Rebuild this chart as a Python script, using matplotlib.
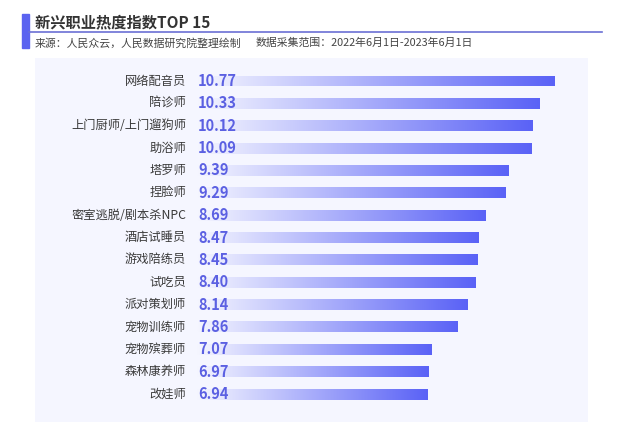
import numpy as np
import matplotlib
matplotlib.use("Agg")
import matplotlib.pyplot as plt
from matplotlib.colors import LinearSegmentedColormap
from matplotlib.patches import Rectangle

plt.rcParams['font.family'] = ['Noto Sans CJK SC', 'DejaVu Sans']

jobs = ["网络配音员", "陪诊师", "上门厨师/上门遛狗师", "助浴师", "塔罗师", "捏脸师",
        "密室逃脱/剧本杀NPC", "酒店试睡员", "游戏陪练员", "试吃员", "派对策划师",
        "宠物训练师", "宠物殡葬师", "森林康养师", "改娃师"]
scores = [10.77, 10.33, 10.12, 10.09, 9.39, 9.29, 8.69, 8.47, 8.45, 8.40, 8.14,
          7.86, 7.07, 6.97, 6.94]

title = "新兴职业热度指数TOP 15"
source = "来源：人民众云，人民数据研究院整理绘制"
period = "数据采集范围：2022年6月1日-2023年6月1日"

panel = "#f5f6ff"
blue = "#5a62f6"
W, H = 622, 432

fig = plt.figure(figsize=(6.22, 4.32), dpi=100)
fig.patch.set_facecolor("white")

# header: accent bar, title, rule, source line
fig.patches.append(Rectangle((22 / W, 1 - 48 / H), 7 / W, 34 / H,
                             transform=fig.transFigure, color="#5b63f0"))
fig.add_artist(plt.Line2D([29 / W, 602 / W], [1 - 32 / H, 1 - 32 / H],
                          transform=fig.transFigure, color="#6b70d4", lw=1.2))
fig.text(35 / W, 1 - 22 / H, title, fontsize=11, fontweight="bold",
         color="#333333", va="center")
fig.text(35 / W, 1 - 43 / H, source, fontsize=7.8, color="#444444", va="center")
fig.text(256 / W, 1 - 43 / H, period, fontsize=7.8, color="#444444", va="center")

ax = fig.add_axes([35 / W, 10 / H, 553 / W, 364 / H])
ax.set_facecolor(panel)
for s in ax.spines.values():
    s.set_visible(False)
ax.set_xticks([])
ax.set_yticks([])

ppu = 33.2
x0 = 197
row = 22.36

cmap = LinearSegmentedColormap.from_list("g", [panel, blue])
grad = np.linspace(0, 1, 256).reshape(1, -1)
bars = ax.barh(range(len(scores)), scores, height=0.49, color="none")
for i, (b, v) in enumerate(zip(bars, scores)):
    im = ax.imshow(grad, cmap=cmap, aspect="auto",
                   extent=(0, v, i + 0.245, i - 0.245), zorder=2)
    im.set_clip_path(b)
    ax.text(0.03, i, f"{v:.2f}", fontsize=10.5, fontweight="bold",
            color="#5b60e2", va="center", ha="left", zorder=3)
    ax.text((186 - x0) / ppu, i, jobs[i], fontsize=8.8, color="#3a3a3a",
            va="center", ha="right", zorder=3)

ax.set_xlim((35 - x0) / ppu, (588 - x0) / ppu)
ax.set_ylim((422 - 81) / row, -(81 - 58) / row)

fig.savefig("out.png", dpi=100)
